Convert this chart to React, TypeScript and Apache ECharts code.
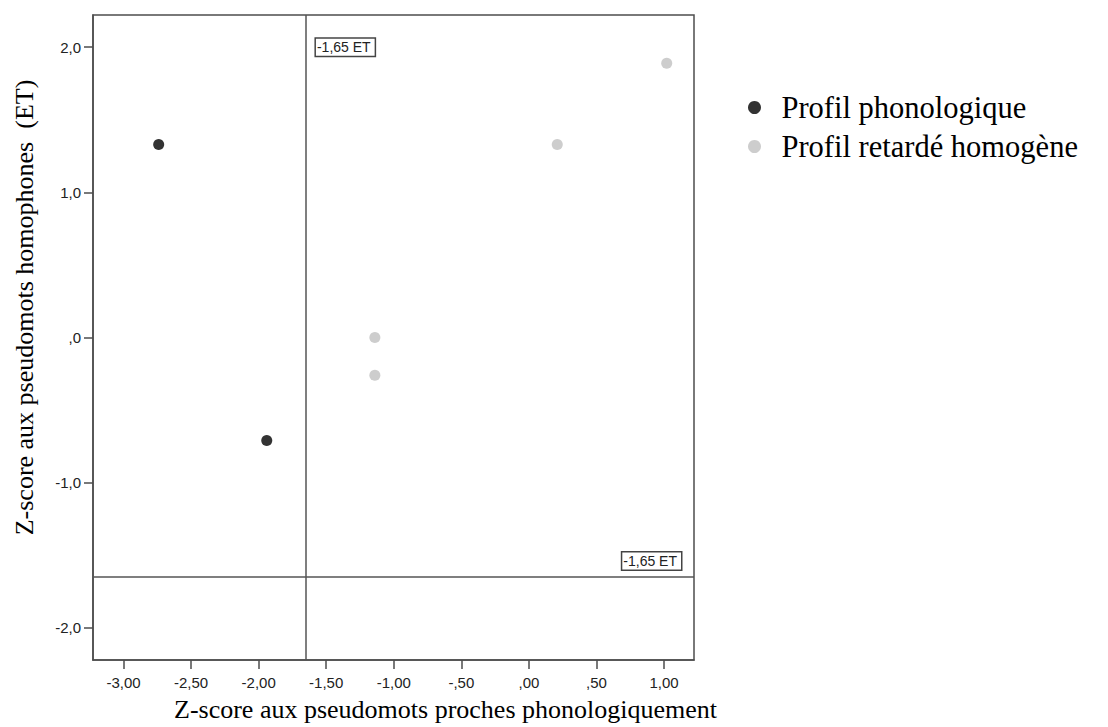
import React, { useEffect, useRef } from "react";
import * as echarts from "echarts";

const xTickValues = [-3, -2.5, -2, -1.5, -1, -0.5, 0, 0.5, 1];
const xTickLabels = ["-3,00", "-2,50", "-2,00", "-1,50", "-1,00", "-,50", ",00", ",50", "1,00"];
const yTickValues = [-2, -1, 0, 1, 2];
const yTickLabels = ["-2,0", "-1,0", ",0", "1,0", "2,0"];

const xRange = [-3.226, 1.222];
const yRange = [-2.222, 2.222];

const phonoName = "Profil phonologique";
const phonoX = [-2.74, -1.94];
const phonoY = [1.33, -0.71];

const retardName = "Profil retardé homogène";
const retardX = [-1.14, -1.14, 0.21, 1.02];
const retardY = [0.0, -0.26, 1.33, 1.89];

const cutoff = -1.65;
const cutoffLabel = "-1,65 ET";

const xTitle = "Z-score aux pseudomots proches phonologiquement";
const yTitle = "Z-score aux pseudomots homophones  (ET)";

const pick = (values: number[], labels: string[]) => (v: number) => {
  const i = values.findIndex((t) => Math.abs(t - v) < 1e-6);
  return i >= 0 ? labels[i] : "";
};

export default function App() {
  const ref = useRef<HTMLDivElement>(null);
  useEffect(() => {
    if (!ref.current) return;
    const chart = echarts.init(ref.current, undefined, { renderer: "svg" });
    const axisColor = "#4d4d4d";
    const labelFont = { fontFamily: "Liberation Sans, Arial", fontSize: 15, color: "#222" };
    const boxLabel = {
      show: true,
      formatter: cutoffLabel,
      fontFamily: "Liberation Sans, Arial",
      fontSize: 14,
      color: "#222",
      backgroundColor: "#fff",
      borderColor: "#444",
      borderWidth: 1.5,
      padding: [2, 4, 1, 1],
    };
    chart.setOption({
      animation: false,
      backgroundColor: "#fff",
      grid: {
        left: 93,
        top: 15,
        right: 414,
        bottom: 61,
        show: true,
        borderColor: axisColor,
        borderWidth: 1.5,
      },
      legend: {
        orient: "vertical",
        left: 743,
        top: 87,
        icon: "circle",
        itemWidth: 44,
        itemHeight: 13,
        itemGap: 8,
        textStyle: { fontFamily: "Liberation Serif, Times New Roman", fontSize: 30.5, color: "#000" },
        data: [phonoName, retardName],
      },
      xAxis: {
        type: "value",
        min: xRange[0],
        max: xRange[1],
        name: xTitle,
        nameLocation: "middle",
        nameGap: 36,
        nameTextStyle: {
          fontFamily: "Liberation Serif, Times New Roman",
          fontSize: 26,
          color: "#000",
          padding: [0, 0, 0, 104],
        },
        axisLine: { show: true, onZero: false, lineStyle: { color: axisColor, width: 1.5 } },
        axisTick: { show: true, length: 9, customValues: xTickValues, lineStyle: { color: axisColor, width: 1.5 } },
        axisLabel: { ...labelFont, margin: 15, customValues: xTickValues, formatter: pick(xTickValues, xTickLabels) },
        splitLine: { show: false },
      },
      yAxis: {
        type: "value",
        min: yRange[0],
        max: yRange[1],
        name: yTitle,
        nameLocation: "middle",
        nameGap: 56,
        nameTextStyle: {
          fontFamily: "Liberation Serif, Times New Roman",
          fontSize: 26,
          color: "#000",
          padding: [0, 0, 0, 60],
        },
        axisLine: { show: true, onZero: false, lineStyle: { color: axisColor, width: 1.5 } },
        axisTick: { show: true, length: 9, customValues: yTickValues, lineStyle: { color: axisColor, width: 1.5 } },
        axisLabel: { ...labelFont, margin: 12, customValues: yTickValues, formatter: pick(yTickValues, yTickLabels) },
        splitLine: { show: false },
      },
      series: [
        {
          name: phonoName,
          type: "scatter",
          symbol: "circle",
          symbolSize: 11,
          itemStyle: { color: "#000" },
          data: phonoX.map((x, i) => [x, phonoY[i]]),
          markLine: {
            silent: true,
            symbol: ["none", "none"],
            label: { show: false },
            lineStyle: { type: "solid", color: "#555", width: 1.5 },
            data: [{ xAxis: cutoff }, { yAxis: cutoff }],
          },
          markPoint: {
            silent: true,
            symbol: "circle",
            symbolSize: 0,
            data: [
              {
                coord: [cutoff, yTickValues[4]],
                label: { ...boxLabel, position: "right", distance: 10 },
              },
              {
                coord: [xRange[1], cutoff],
                label: { ...boxLabel, position: "left", distance: 13, offset: [0, -16] },
              },
            ],
          },
        },
        {
          name: retardName,
          type: "scatter",
          symbol: "circle",
          symbolSize: 11,
          itemStyle: { color: "#c0c0c0" },
          data: retardX.map((x, i) => [x, retardY[i]]),
        },
      ],
    });
    return () => chart.dispose();
  }, []);
  return (
    <div
      ref={ref}
      style={{ position: "fixed", left: 0, top: 0, width: 1108, height: 727 }}
    />
  );
}
